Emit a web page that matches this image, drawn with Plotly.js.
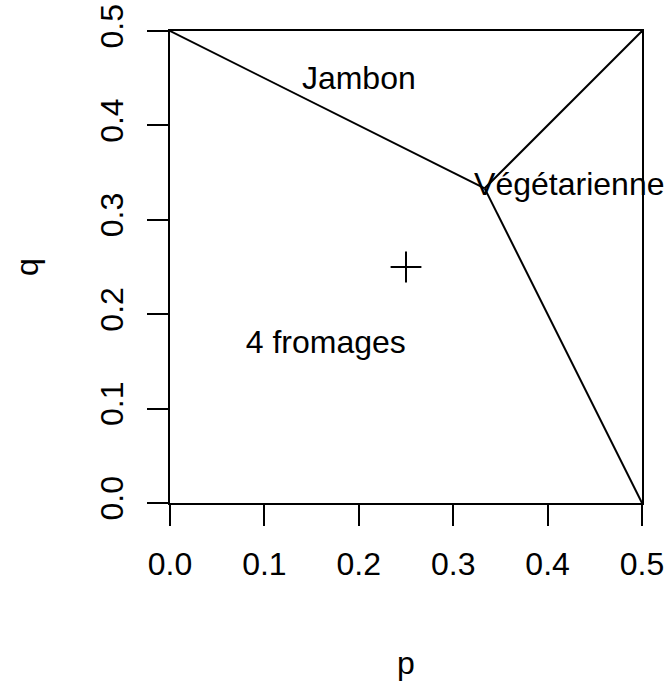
<!DOCTYPE html>
<html>
<head>
<meta charset="utf-8">
<script src="https://cdn.plot.ly/plotly-3.0.1.min.js"></script>
<style>html,body{margin:0;padding:0;background:#fff;}#chart{width:670px;height:684px;}</style>
</head>
<body>
<div id="chart"></div>
<script>
// Region boundaries (p, q)
const boundaryA_p = [0, 1/3];
const boundaryA_q = [0.5, 1/3];
const boundaryB_p = [1/3, 0.5];
const boundaryB_q = [1/3, 0.5];
const boundaryC_p = [1/3, 0.5];
const boundaryC_q = [1/3, 0];
// Point marker
const point_p = [0.25];
const point_q = [0.25];
// Region labels
const label_text = ["Jambon", "Végétarienne", "4 fromages"];
const label_p = [0.2, 0.423, 0.165];
const label_q = [0.447, 0.335, 0.167];
// Ticks
const tick_vals = [0, 0.1, 0.2, 0.3, 0.4, 0.5];
const tick_text = ["0.0", "0.1", "0.2", "0.3", "0.4", "0.5"];

const FONT = "Liberation Sans, Arial, Helvetica, sans-serif";
const FS = 32;
const lineStyle = {color: "black", width: 2};

const traces = [
  {x: boundaryA_p, y: boundaryA_q, mode: "lines", line: lineStyle, cliponaxis: false, hoverinfo: "skip"},
  {x: boundaryB_p, y: boundaryB_q, mode: "lines", line: lineStyle, cliponaxis: false, hoverinfo: "skip"},
  {x: boundaryC_p, y: boundaryC_q, mode: "lines", line: lineStyle, cliponaxis: false, hoverinfo: "skip"},
  {x: point_p, y: point_q, mode: "markers",
   marker: {symbol: "cross-thin-open", size: 22, color: "black", line: {color: "black", width: 2}}, hoverinfo: "skip"},
  {x: label_p, y: label_q, mode: "text", text: label_text, textposition: "middle center",
   textfont: {family: FONT, size: FS, color: "black"}, cliponaxis: false, hoverinfo: "skip"}
];

const axisCommon = {
  range: [0, 0.5],
  autorange: false,
  showgrid: false,
  zeroline: false,
  showline: true,
  mirror: true,
  linecolor: "black",
  linewidth: 2,
  ticks: "outside",
  ticklen: 21,
  tickwidth: 2,
  tickcolor: "black",
  tickvals: tick_vals,
  ticktext: tick_text,
  tickfont: {family: FONT, size: FS, color: "black"}
};

const layout = {
  width: 670,
  height: 684,
  margin: {l: 170, r: 28, t: 31, b: 181},
  paper_bgcolor: "white",
  plot_bgcolor: "white",
  showlegend: false,
  font: {family: FONT, size: FS, color: "black"},
  xaxis: Object.assign({}, axisCommon, {
    title: {text: "p", font: {family: FONT, size: FS, color: "black"}, standoff: 70},
    ticklabelstandoff: 11
  }),
  yaxis: Object.assign({}, axisCommon, {
    tickangle: -90,
    title: {text: "q", font: {family: FONT, size: FS, color: "black"}, standoff: 46},
    ticklabelstandoff: 11
  })
};

Plotly.newPlot("chart", traces, layout, {displayModeBar: false, staticPlot: true});
</script>
</body>
</html>
